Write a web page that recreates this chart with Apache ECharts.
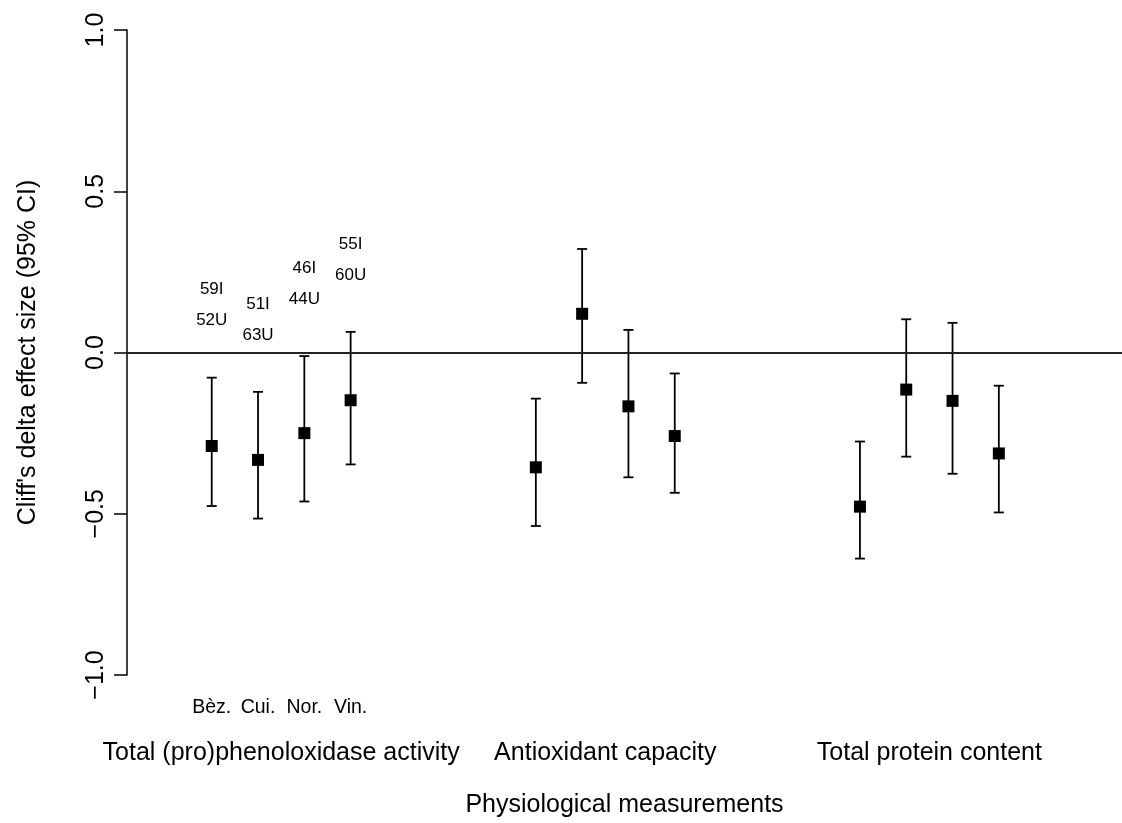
<!DOCTYPE html>
<html>
<head>
<meta charset="utf-8">
<script src="https://cdn.jsdelivr.net/npm/echarts@6/dist/echarts.min.js"></script>
<style>
  html, body { margin: 0; padding: 0; background: #fff; }
  #main { width: 1122px; height: 823px; }
</style>
</head>
<body>
<div id="main"></div>
<script>
// measurement groups and sites
var groups = ['Total (pro)phenoloxidase activity', 'Antioxidant capacity', 'Total protein content'];
var groupPos = [2.5, 9.5, 16.5];
var sites = ['Bèz.', 'Cui.', 'Nor.', 'Vin.'];
var sitePos = [1, 2, 3, 4];

// one point per site in each group
var xPos = [1, 2, 3, 4, 8, 9, 10, 11, 15, 16, 17, 18];
var est = [-0.29, -0.333, -0.25, -0.148, -0.356, 0.12, -0.167, -0.259, -0.478, -0.115, -0.15, -0.313];
var lower = [-0.476, -0.515, -0.462, -0.347, -0.538, -0.094, -0.387, -0.435, -0.639, -0.323, -0.376, -0.496];
var upper = [-0.078, -0.122, -0.011, 0.064, -0.143, 0.321, 0.07, -0.065, -0.276, 0.103, 0.092, -0.103];

// sample sizes (infected / uninfected), first group only
var nInf = ['59I', '51I', '46I', '55I'];
var nUninf = ['52U', '63U', '44U', '60U'];

var font = 'Liberation Sans, Arial, Helvetica, sans-serif';
var ink = '#000';

var barData = xPos.map(function (x, i) { return [x, lower[i], upper[i]]; });
var pointData = xPos.map(function (x, i) { return [x, est[i]]; });
var noteData = nInf.map(function (t, i) { return [xPos[i], upper[i], i]; });

var myChart = echarts.init(document.getElementById('main'));

var option = {
  animation: false,
  backgroundColor: '#fff',
  grid: { left: 127, right: 0, top: 30, bottom: 148 },
  xAxis: [{
    type: 'value', min: -0.83, max: 20.66,
    axisLine: { show: false }, axisTick: { show: false }, splitLine: { show: false },
    axisLabel: {
      customValues: groupPos, margin: 66,
      fontFamily: font, fontSize: 25, color: ink,
      formatter: function (v) { return groups[groupPos.indexOf(v)] || ''; }
    },
    name: 'Physiological measurements', nameLocation: 'middle', nameGap: 118,
    nameTextStyle: { fontFamily: font, fontSize: 25, color: ink }
  }, {
    type: 'value', min: -0.83, max: 20.66, position: 'bottom',
    axisLine: { show: false }, axisTick: { show: false }, splitLine: { show: false },
    axisLabel: {
      customValues: sitePos, margin: 23,
      fontFamily: font, fontSize: 19.5, color: ink,
      formatter: function (v) { return sites[sitePos.indexOf(v)] || ''; }
    }
  }],
  yAxis: {
    type: 'value', min: -1, max: 1, interval: 0.5,
    axisLine: { show: true, onZero: false, lineStyle: { color: ink, width: 1.5 } },
    axisTick: { show: true, length: 13, lineStyle: { color: ink, width: 1.5 } },
    splitLine: { show: false },
    axisLabel: {
      rotate: 90, margin: 18,
      fontFamily: font, fontSize: 25, color: ink,
      formatter: function (v) { return (v < 0 ? '\u2212' : '') + Math.abs(v).toFixed(1); }
    },
    name: "Cliff's delta effect size (95% CI)", nameLocation: 'middle', nameGap: 86,
    nameTextStyle: { fontFamily: font, fontSize: 25, color: ink }
  },
  series: [{
    type: 'custom',
    data: barData,
    renderItem: function (params, api) {
      var lo = api.coord([api.value(0), api.value(1)]);
      var hi = api.coord([api.value(0), api.value(2)]);
      var w = 5;
      var style = { stroke: ink, lineWidth: 1.8 };
      return {
        type: 'group',
        children: [
          { type: 'line', shape: { x1: lo[0], y1: lo[1], x2: hi[0], y2: hi[1] }, style: style },
          { type: 'line', shape: { x1: lo[0] - w, y1: lo[1], x2: lo[0] + w, y2: lo[1] }, style: style },
          { type: 'line', shape: { x1: hi[0] - w, y1: hi[1], x2: hi[0] + w, y2: hi[1] }, style: style }
        ]
      };
    },
    markLine: {
      silent: true, symbol: 'none', label: { show: false },
      lineStyle: { color: '#222', width: 1.8, type: 'solid' },
      data: [{ yAxis: 0 }]
    },
    z: 2
  }, {
    type: 'scatter',
    data: pointData,
    symbol: 'rect', symbolSize: 12,
    itemStyle: { color: ink, opacity: 1 },
    z: 3
  }, {
    type: 'custom',
    data: noteData,
    renderItem: function (params, api) {
      var p = api.coord([api.value(0), api.value(1)]);
      var i = api.value(2);
      var ts = { fontFamily: font, fontSize: 17, fill: ink, align: 'center', verticalAlign: 'middle' };
      return {
        type: 'group',
        children: [
          { type: 'text', x: p[0], y: p[1] - 88, style: Object.assign({ text: nInf[i] }, ts) },
          { type: 'text', x: p[0], y: p[1] - 57, style: Object.assign({ text: nUninf[i] }, ts) }
        ]
      };
    },
    z: 4
  }]
};

myChart.setOption(option);
</script>
</body>
</html>
